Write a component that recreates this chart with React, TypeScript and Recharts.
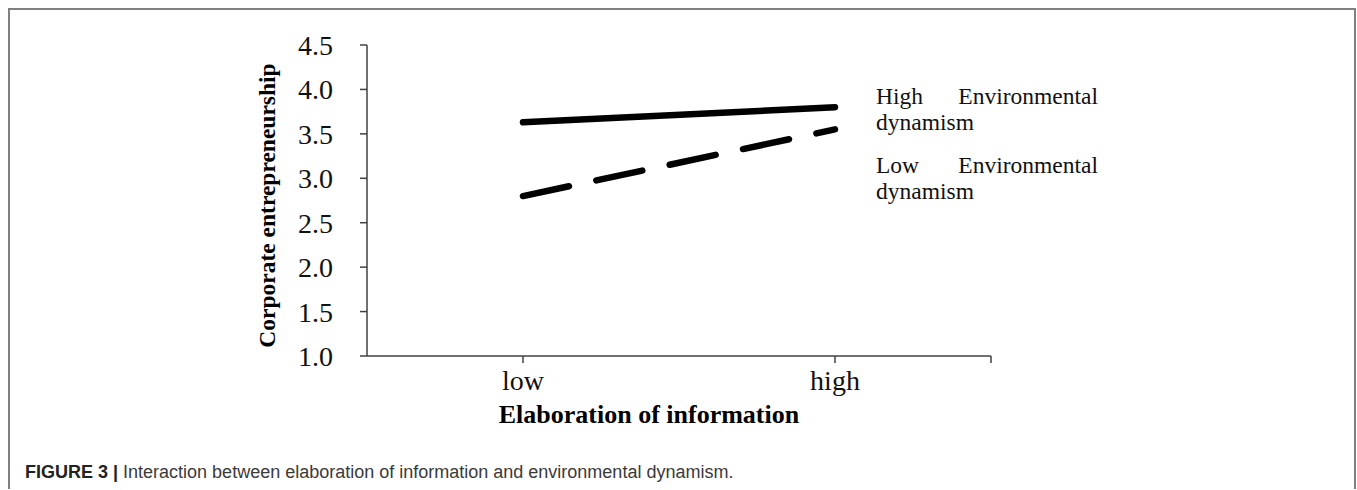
import { LineChart, Line, XAxis, YAxis, Legend, Label } from 'recharts';

const categories = ['low', 'high'];
const highDynamism = [3.63, 3.8];
const lowDynamism = [2.8, 3.55];
const yTicks = [1.0, 1.5, 2.0, 2.5, 3.0, 3.5, 4.0, 4.5];
const seriesNames = ['High Environmental dynamism', 'Low Environmental dynamism'];

const data = categories.map((c, i) => ({
  category: c,
  pos: i + 0.5,
  high: highDynamism[i],
  low: lowDynamism[i],
}));

const xTicks = [...categories.map((_, i) => i + 0.5), categories.length];

const serif = '"Liberation Serif", "Times New Roman", serif';
const axisColor = '#404040';

function LegendText({ payload }: any) {
  return (
    <div style={{ fontFamily: serif, fontSize: 23.5, lineHeight: '26px', color: '#111' }}>
      {(payload || []).map((p: any, i: number) => (
        <div key={i} style={{ textAlign: 'justify', marginBottom: i === 0 ? 17 : 0 }}>
          {p.value}
        </div>
      ))}
    </div>
  );
}

export default function App() {
  return (
    <div
      style={{
        position: 'absolute',
        left: 8,
        top: 8,
        width: 1348,
        height: 481,
        boxSizing: 'border-box',
        border: '2px solid #808080',
        borderBottom: 'none',
        background: '#fff',
      }}
    >
      <div style={{ position: 'absolute', left: 0, top: 0 }}>
        <LineChart
          width={1340}
          height={440}
          data={data}
          margin={{ top: 35, right: 359, bottom: 14, left: 155 }}
        >
          <XAxis
            dataKey="pos"
            type="number"
            domain={[0, categories.length]}
            ticks={xTicks}
            interval={0}
            tickFormatter={(v: number) => categories[v - 0.5] ?? ''}
            height={80}
            tickSize={7}
            tickMargin={7}
            stroke={axisColor}
            strokeWidth={1.5}
            tick={{ fill: '#111', fontSize: 28, fontFamily: serif }}
          >
            <Label
              value="Elaboration of information"
              position="insideBottom"
              offset={13}
              dx={-30}
              style={{ fontFamily: serif, fontSize: 26, fontWeight: 'bold', fill: '#000' }}
            />
          </XAxis>
          <YAxis
            type="number"
            domain={[1, 4.5]}
            ticks={yTicks}
            interval={0}
            tickFormatter={(v: number) => v.toFixed(1)}
            width={202}
            tickSize={7}
            tickMargin={27}
            stroke={axisColor}
            strokeWidth={1.5}
            tick={{ fill: '#111', fontSize: 28, fontFamily: serif }}
          >
            <Label
              value="Corporate entrepreneurship"
              angle={-90}
              position="center"
              dx={1}
              dy={5}
              style={{ fontFamily: serif, fontSize: 23.5, fontWeight: 'bold', fill: '#000' }}
            />
          </YAxis>
          <Legend
            layout="horizontal"
            align="center"
            verticalAlign="middle"
            content={<LegendText />}
            wrapperStyle={{ left: 866, top: 73, width: 222, bottom: 'auto', right: 'auto' }}
          />
          <Line
            type="linear"
            dataKey="high"
            name={seriesNames[0]}
            stroke="#000"
            strokeWidth={6.5}
            strokeLinecap="round"
            dot={false}
            activeDot={false}
            isAnimationActive={false}
          />
          <Line
            type="linear"
            dataKey="low"
            name={seriesNames[1]}
            stroke="#000"
            strokeWidth={6.5}
            strokeLinecap="round"
            strokeDasharray="47 28"
            dot={false}
            activeDot={false}
            isAnimationActive={false}
          />
        </LineChart>
      </div>
      <div
        style={{
          position: 'absolute',
          left: 15,
          top: 453,
          fontFamily: '"Liberation Sans", Arial, sans-serif',
          fontSize: 18,
          lineHeight: '18px',
          color: '#3a3a3a',
          whiteSpace: 'nowrap',
        }}
      >
        <span style={{ fontWeight: 'bold', color: '#222' }}>FIGURE 3 | </span>
        Interaction between elaboration of information and environmental dynamism.
      </div>
    </div>
  );
}
